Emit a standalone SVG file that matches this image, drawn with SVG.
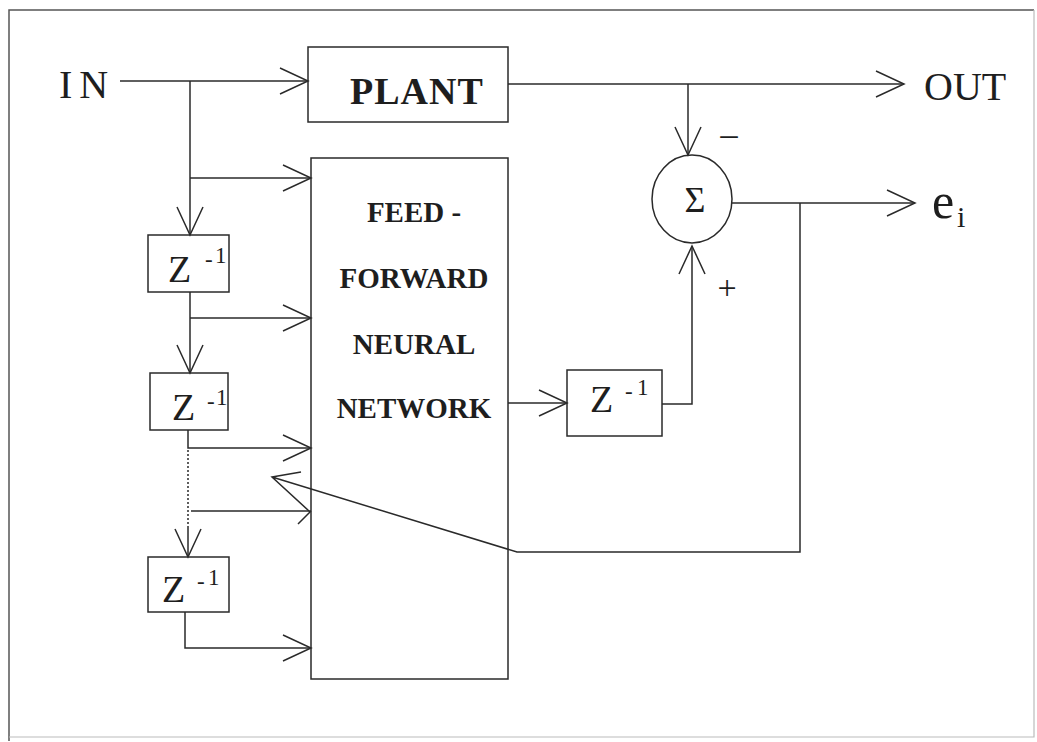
<svg xmlns="http://www.w3.org/2000/svg" width="1037" height="742" viewBox="0 0 1037 742">
<style>
.ln{fill:none;stroke:#2a2a2a;stroke-width:1.5}
.box{fill:#fff;stroke:#2a2a2a;stroke-width:1.5}
.t{font-family:"Liberation Serif","Times New Roman",serif;fill:#1e1e1e}
.b{font-weight:bold}
.z{font-size:38px}
.s{font-size:23px}
</style>
<defs>
<marker id="arr" markerUnits="userSpaceOnUse" markerWidth="32" markerHeight="30" refX="29" refY="14" orient="auto" viewBox="0 0 32 30">
<path d="M1,1 L29,14 L1,27" fill="none" stroke="#2a2a2a" stroke-width="1.5"/>
</marker>
</defs>
<rect x="0" y="0" width="1037" height="742" fill="#fff"/>
<g id="frame">
<path d="M9,741 V10 H1034" fill="none" stroke="#555" stroke-width="1.5"/>
<path d="M1034,10 V737 H9" fill="none" stroke="#bbb" stroke-width="1.2"/>
</g>
<g id="in-label"><text class="t" x="59" y="98" font-size="40" letter-spacing="7">IN</text></g>
<g id="out-label"><text class="t" x="924" y="100" font-size="40">OUT</text></g>
<g id="ei-label"><text class="t" x="932" y="218" font-size="50">e</text><text class="t" x="957" y="227" font-size="30">i</text></g>
<g id="plant">
<rect class="box" x="308" y="47" width="200" height="75"/>
<text class="t b" x="350" y="104" font-size="38" letter-spacing="1">PLANT</text>
</g>
<g id="ffnn">
<rect class="box" x="311" y="158" width="197" height="521"/>
<g class="t b" font-size="29" text-anchor="middle">
<text x="414" y="222">FEED -</text>
<text x="414" y="288">FORWARD</text>
<text x="414" y="354">NEURAL</text>
<text x="414" y="418">NETWORK</text>
</g>
</g>
<g id="delay1">
<rect class="box" x="148" y="235" width="81" height="57"/>
<text class="t z" x="168" y="282">Z</text><text class="t s" x="205" y="267">-</text><text class="t s" x="215" y="263">1</text>
</g>
<g id="delay2">
<rect class="box" x="150" y="373" width="78" height="57"/>
<text class="t z" x="172" y="420">Z</text><text class="t s" x="207" y="409">-</text><text class="t s" x="216" y="405">1</text>
</g>
<g id="delay3">
<rect class="box" x="148" y="557" width="81" height="55"/>
<text class="t z" x="162" y="602">Z</text><text class="t s" x="197" y="589">-</text><text class="t s" x="208" y="585">1</text>
</g>
<g id="delay4">
<rect class="box" x="567" y="370" width="95" height="66"/>
<text class="t z" x="590" y="412">Z</text><text class="t s" x="625" y="399">-</text><text class="t s" x="637" y="395">1</text>
</g>
<g id="sum">
<ellipse class="box" cx="692" cy="199" rx="40" ry="44"/>
<text class="t" x="695" y="212" font-size="36" text-anchor="middle">Σ</text>
<text class="t" x="729" y="150" font-size="38" text-anchor="middle">−</text>
<text class="t" x="727" y="299" font-size="34" text-anchor="middle">+</text>
</g>
<g id="connectors">
<path class="ln" d="M120,81 H308" marker-end="url(#arr)"/>
<path class="ln" d="M190,81 V235" marker-end="url(#arr)"/>
<path class="ln" d="M190,178 H311" marker-end="url(#arr)"/>
<path class="ln" d="M190,292 V373" marker-end="url(#arr)"/>
<path class="ln" d="M190,318 H311" marker-end="url(#arr)"/>
<path class="ln" d="M188,430 V448 H311" marker-end="url(#arr)"/>
<path class="ln" d="M188,450 V527" stroke-dasharray="2,2"/>
<path class="ln" d="M188,527 V557" marker-end="url(#arr)"/>
<path class="ln" d="M191,511 H311 M298,524 L311,511"/>
<path class="ln" d="M185,612 V648 H311" marker-end="url(#arr)"/>
<path class="ln" d="M508,84 H904" marker-end="url(#arr)"/>
<path class="ln" d="M688,84 V155" marker-end="url(#arr)"/>
<path class="ln" d="M732,203 H915" marker-end="url(#arr)"/>
<path class="ln" d="M800,203 V552 H517 L272,477 M301,472 L272,477 L309,511"/>
<path class="ln" d="M508,403 H567" marker-end="url(#arr)"/>
<path class="ln" d="M662,404 H692 V246" marker-end="url(#arr)"/>
</g>
</svg>
